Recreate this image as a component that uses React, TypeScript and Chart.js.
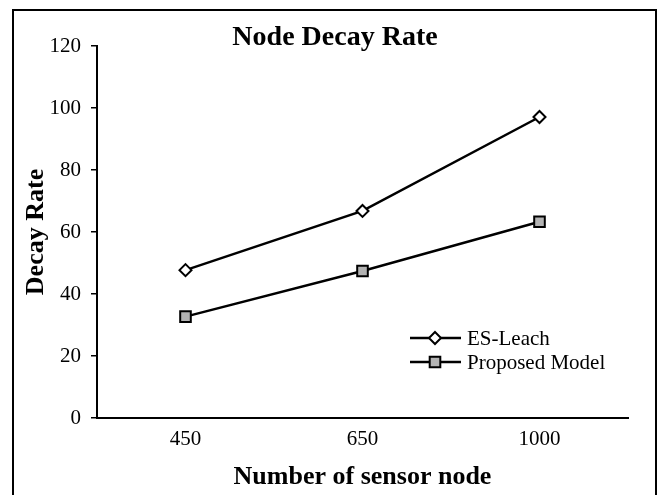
import React, { useEffect, useRef } from "react";
import { Chart, registerables } from "chart.js";
Chart.register(...registerables);

const categories = ["450", "650", "1000"];
const esLeach = [47.7, 66.8, 97.1];
const proposedModel = [32.7, 47.4, 63.3];
const seriesNames = ["ES-Leach", "Proposed Model"];
const chartTitle = "Node Decay Rate";
const xTitle = "Number of sensor node";
const yTitle = "Decay Rate";
const yMin = 0;
const yMax = 120;
const yStep = 20;

const FONT = "'Liberation Serif', 'Times New Roman', serif";

function drawMarker(ctx: CanvasRenderingContext2D, kind: string, x: number, y: number) {
  ctx.save();
  ctx.lineWidth = 2;
  ctx.strokeStyle = "#000";
  ctx.beginPath();
  if (kind === "rectRot") {
    const r = 6;
    ctx.moveTo(x, y - r);
    ctx.lineTo(x + r, y);
    ctx.lineTo(x, y + r);
    ctx.lineTo(x - r, y);
    ctx.closePath();
    ctx.fillStyle = "#fff";
  } else {
    const s = 7.5 * Math.SQRT1_2;
    ctx.rect(x - s, y - s, 2 * s, 2 * s);
    ctx.fillStyle = "#b3b3b3";
  }
  ctx.fill();
  ctx.stroke();
  ctx.restore();
}

const decorPlugin = {
  id: "decor",
  afterDraw(chart: any) {
    const ctx: CanvasRenderingContext2D = chart.ctx;
    const ca = chart.chartArea;
    ctx.save();
    // outer frame
    ctx.strokeStyle = "#000";
    ctx.lineWidth = 2;
    ctx.beginPath();
    ctx.moveTo(13, 500);
    ctx.lineTo(13, 10);
    ctx.lineTo(656, 10);
    ctx.lineTo(656, 500);
    ctx.stroke();

    ctx.fillStyle = "#000";
    // title
    ctx.font = `bold 28px ${FONT}`;
    ctx.textAlign = "center";
    ctx.textBaseline = "alphabetic";
    ctx.fillText(chartTitle, 335, 45);

    // x title
    ctx.font = `bold 26px ${FONT}`;
    ctx.fillText(xTitle, (ca.left + ca.right) / 2, 484);

    // y title
    ctx.save();
    ctx.translate(43, (ca.top + ca.bottom) / 2);
    ctx.rotate(-Math.PI / 2);
    ctx.fillText(yTitle, 0, 0);
    ctx.restore();

    // legend
    const lx0 = 410, lx1 = 461, mx = 435, tx = 467;
    const rows = [
      { y: 338, kind: "rectRot", label: seriesNames[0] },
      { y: 362, kind: "rect", label: seriesNames[1] },
    ];
    ctx.font = `21px ${FONT}`;
    ctx.textAlign = "left";
    ctx.textBaseline = "middle";
    rows.forEach((r) => {
      ctx.strokeStyle = "#000";
      ctx.lineWidth = 2.5;
      ctx.beginPath();
      ctx.moveTo(lx0, r.y);
      ctx.lineTo(lx1, r.y);
      ctx.stroke();
      drawMarker(ctx, r.kind, mx, r.y);
      ctx.fillStyle = "#000";
      ctx.fillText(r.label, tx, r.y + 1);
    });
    ctx.restore();
  },
};

export default function App() {
  const ref = useRef<HTMLCanvasElement | null>(null);
  useEffect(() => {
    document.body.style.margin = "0";
    const canvas = ref.current;
    if (!canvas) return;
    const chart = new Chart(canvas, {
      type: "line",
      data: {
        labels: categories,
        datasets: [
          {
            label: seriesNames[0],
            data: esLeach,
            borderColor: "#000",
            borderWidth: 2.5,
            pointStyle: "rectRot",
            pointRadius: 6,
            pointBackgroundColor: "#fff",
            pointBorderColor: "#000",
            pointBorderWidth: 2,
            tension: 0,
          },
          {
            label: seriesNames[1],
            data: proposedModel,
            borderColor: "#000",
            borderWidth: 2.5,
            pointStyle: "rect",
            pointRadius: 7.5,
            pointBackgroundColor: "#b3b3b3",
            pointBorderColor: "#000",
            pointBorderWidth: 2,
            tension: 0,
          },
        ],
      },
      options: {
        responsive: false,
        animation: false,
        layout: { padding: { left: 0, top: 46, right: 37, bottom: 0 } },
        plugins: {
          legend: { display: false },
          title: { display: false },
          tooltip: { enabled: false },
        },
        scales: {
          x: {
            offset: true,
            grid: { display: true, drawOnChartArea: false, drawTicks: false },
            border: { display: true, color: "#000", width: 2 },
            ticks: { color: "#000", font: { family: FONT, size: 21 }, padding: 9, maxRotation: 0 },
            afterFit: (s: any) => {
              s.height = 77;
            },
          },
          y: {
            min: yMin,
            max: yMax,
            grid: { display: true, drawOnChartArea: false, drawTicks: true, tickLength: 6, color: "#000", lineWidth: 1.5 },
            border: { display: true, color: "#000", width: 2 },
            ticks: { stepSize: yStep, color: "#000", font: { family: FONT, size: 21 }, padding: 10 },
            afterFit: (s: any) => {
              s.width = 97;
            },
          },
        },
      },
      plugins: [decorPlugin],
    });
    return () => chart.destroy();
  }, []);
  return <canvas ref={ref} width={665} height={495} style={{ display: "block" }} />;
}
